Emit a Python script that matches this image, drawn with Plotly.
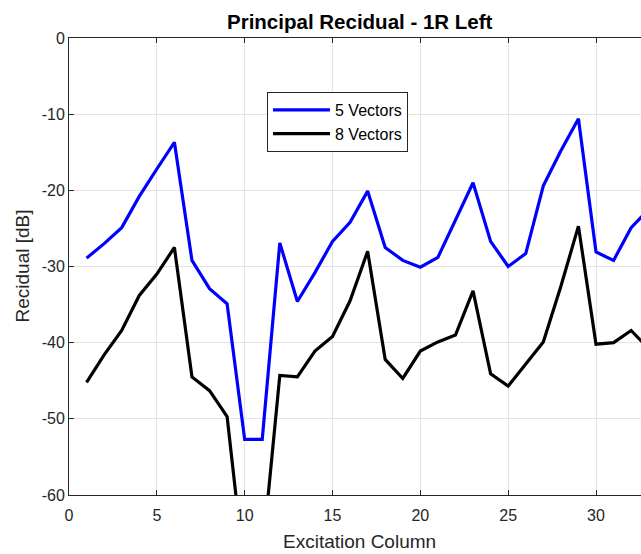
import plotly.graph_objects as go

columns = list(range(1, 34))
vec5 = [-28.9, -27.0, -24.9, -20.8, -17.2, -13.7, -29.2, -32.9, -34.9, -52.7,
        -52.7, -26.9, -34.6, -30.8, -26.7, -24.2, -20.1, -27.5, -29.2, -30.1,
        -28.8, -23.9, -19.0, -26.7, -30.0, -28.3, -19.4, -14.8, -10.6, -28.1,
        -29.2, -24.9, -22.5]
vec8 = [-45.2, -41.6, -38.4, -33.8, -31.0, -27.5, -44.5, -46.3, -49.7, -70.3,
        -68.1, -44.3, -44.5, -41.1, -39.2, -34.5, -28.0, -42.2, -44.7, -41.1,
        -39.9, -39.0, -33.2, -44.1, -45.7, -42.8, -39.9, -32.6, -24.7, -40.2,
        -40.0, -38.4, -40.8]
x_ticks = [0, 5, 10, 15, 20, 25, 30]
y_ticks = [-60, -50, -40, -30, -20, -10, 0]
y_ticktext = ["-60", "-50", "-40", "-30", "-20", "-10", "0"]

W, H = 641, 554
L, T, B = 69, 38, 59  # margins (px)
pw = W - L
ph = H - T - B
x_max = (W - L) / 17.567

font = "Liberation Sans, Arial, sans-serif"
axc = "#262626"

fig = go.Figure()
fig.add_trace(go.Scatter(x=columns, y=vec5, mode="lines", name="5 Vectors",
                         line=dict(color="#0000ff", width=3.2)))
fig.add_trace(go.Scatter(x=columns, y=vec8, mode="lines", name="8 Vectors",
                         line=dict(color="#000000", width=3.2)))

fig.update_layout(
    width=W, height=H,
    margin=dict(l=L, r=0, t=T, b=B),
    paper_bgcolor="white", plot_bgcolor="white",
    font=dict(family=font, size=16, color=axc),
    showlegend=True,
    legend=dict(x=(267 - L) / pw, y=(H - B - 92) / ph, xanchor="left", yanchor="top",
                bgcolor="white", bordercolor=axc, borderwidth=1,
                font=dict(family=font, size=16, color="#000"),
                tracegroupgap=0, itemwidth=57),
    xaxis=dict(range=[0, x_max], tickvals=x_ticks, showgrid=True, gridcolor="#e3e3e3",
               gridwidth=1, zeroline=False, showline=True, linecolor=axc, linewidth=1,
               mirror="ticks", ticks="inside", ticklen=5, tickcolor=axc,
               ticklabelstandoff=6,
               tickfont=dict(size=16, color=axc)),
    yaxis=dict(range=[-60, 0], tickvals=y_ticks, ticktext=y_ticktext, showgrid=True,
               gridcolor="#e3e3e3",
               gridwidth=1, zeroline=False, showline=True, linecolor=axc, linewidth=1,
               ticks="inside", ticklen=5, tickcolor=axc,
               tickfont=dict(size=16, color=axc)),
    annotations=[
        dict(text="<b>Principal Recidual - 1R Left</b>", x=(359.5 - L) / pw, y=1,
             xref="paper", yref="paper", xanchor="center", yanchor="middle", yshift=17,
             showarrow=False, font=dict(size=20.5, color="#000", family=font)),
        dict(text="Excitation Column", x=(359 - L) / pw, y=0, xref="paper", yref="paper",
             xanchor="center", yanchor="middle", yshift=-46, showarrow=False,
             font=dict(size=19, color=axc, family=font)),
        dict(text="Recidual [dB]", x=0, y=0.5, xref="paper", yref="paper",
             xanchor="center", yanchor="middle", xshift=-47, textangle=-90, showarrow=False,
             font=dict(size=19, color=axc, family=font)),
    ],
)

fig.write_html("out.html")
